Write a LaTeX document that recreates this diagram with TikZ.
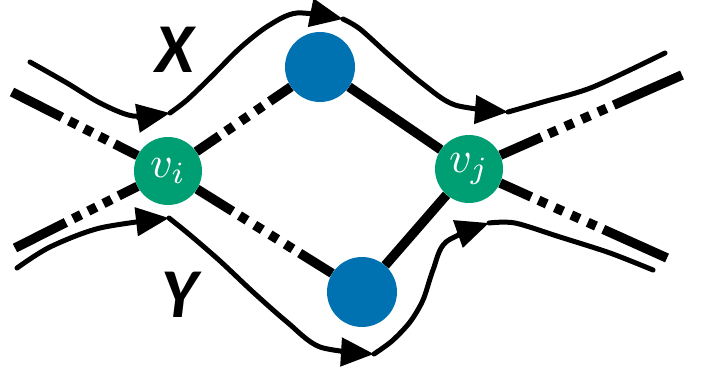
\documentclass[tikz,border=0pt]{standalone}
\usepackage{fontspec}
\usepackage{graphicx}
\newfontfamily\labelfont{Carlito}
\usetikzlibrary{arrows.meta,backgrounds}
\definecolor{nodegreen}{RGB}{0,158,115}
\definecolor{nodeblue}{RGB}{0,114,178}
\tikzset{
  vertex/.style={circle, fill=nodegreen, minimum size=68pt, inner sep=0pt, text=white},
  hub/.style={circle, fill=nodeblue, minimum size=70pt, inner sep=0pt},
  bar/.style={line width=9.5pt, line cap=butt},
  route/.style={line width=5pt, line cap=round, line join=round,
    -{Triangle[length=33pt,width=28pt]}},
  plain route/.style={line width=5pt, line cap=round, line join=round},
  tag/.style={font=\labelfont\bfseries\itshape\fontsize{70}{70}\selectfont, inner sep=0pt}
}
\begin{document}
\begin{tikzpicture}[x=1pt,y=-1pt]
\useasboundingbox (0,0) rectangle (707,377);

% vertices
\node[vertex] (vi) at (168,171) {\scalebox{4.4}{$v_i$}};
\node[vertex] (vj) at (469,169) {\scalebox{4.4}{$v_j$}};
\node[hub] (top) at (320,67) {};
\node[hub] (bot) at (362,292) {};

% free ends of the outer links
\coordinate (l1) at (12,92);
\coordinate (l2) at (15,248);
\coordinate (r1) at (682,75);
\coordinate (r2) at (667,258);

% links, drawn below the vertices
\begin{pgfonlayer}{background}
\draw[bar, dash pattern=on 28 off 8 on 9 off 9 on 9 off 9 on 9 off 8 on 300] (vi) -- (top);
\draw[bar, dash pattern=on 42 off 8 on 9 off 9 on 9 off 9 on 9 off 9 on 9 off 8 on 300] (vi) -- (bot);
\draw[bar] (top) -- (vj);
\draw[bar] (bot) -- (vj);
\draw[bar, dash pattern=on 56 off 8 on 9 off 8 on 9 off 8 on 9 off 8 on 300] (l1) -- (vi);
\draw[bar, dash pattern=on 57 off 8 on 9 off 8 on 9 off 8 on 9 off 8 on 300] (l2) -- (vi);
\draw[bar, dash pattern=on 45 off 8 on 9 off 9 on 9 off 9 on 9 off 9 on 9 off 8 on 300] (vj) -- (r1);
\draw[bar, dash pattern=on 34 off 8 on 9 off 9 on 9 off 9 on 9 off 9 on 9 off 8 on 300] (vj) -- (r2);
\end{pgfonlayer}

% route X
\draw[route] plot[smooth] coordinates {(30,62) (67,83) (100,103) (133,116) (170,113)};
\draw[route] plot[smooth] coordinates {(170,113) (187,100) (211,77) (240,48) (268,26) (297,13) (343,19)};
\draw[route] plot[smooth] coordinates {(343,19) (360,29) (390,56) (423,84) (455,105) (508,112)};
\draw[plain route] plot[smooth] coordinates {(508,112) (543,102) (593,87) (665,53)};

% route Y
\draw[route] plot[smooth] coordinates {(17,268) (50,247) (100,228) (169,218)};
\draw[route] plot[smooth] coordinates {(169,218) (190,235) (220,261) (253,292) (287,322) (320,347) (374,354)};
\draw[route] plot[smooth] coordinates {(374,354) (392,341) (410,322) (423,300) (433,270) (446,242) (489,223)};
\draw[plain route] plot[smooth] coordinates {(489,223) (515,223) (560,237) (610,253) (653,270)};

% route labels
\node[tag] (xlab) at (175,50) {X};
\node[tag] (ylab) at (180,295) {Y};
\end{tikzpicture}
\end{document}
